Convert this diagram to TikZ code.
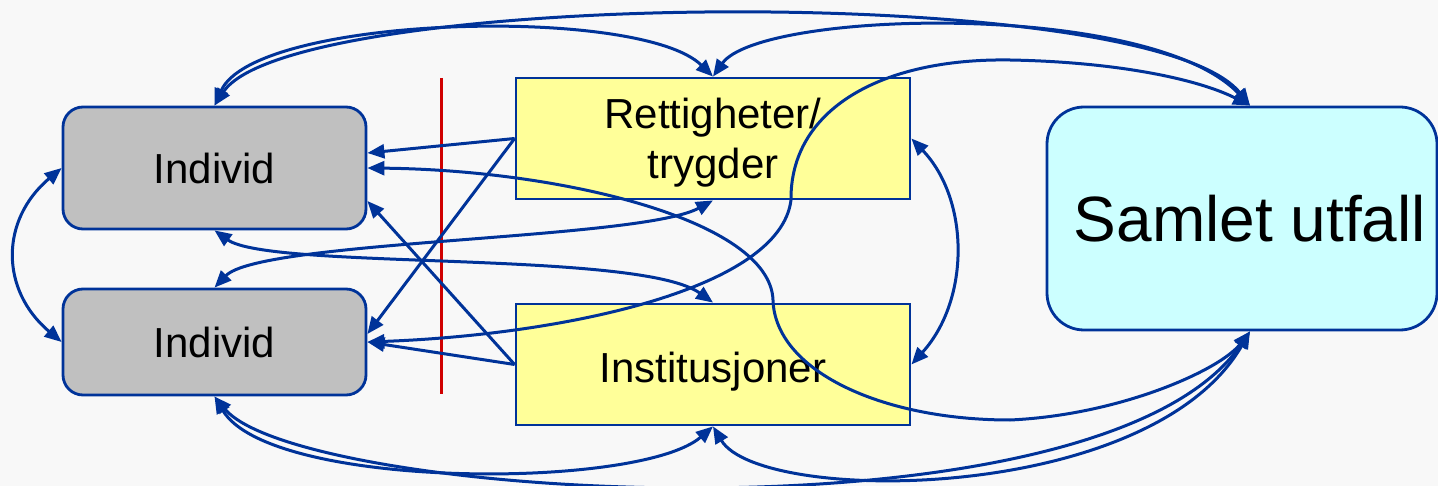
\documentclass[tikz,border=0pt]{standalone}
\usepackage{fontspec}
\setmainfont{Liberation Sans}
\usetikzlibrary{arrows.meta,calc}
\definecolor{linkblue}{HTML}{003399}
\definecolor{personfill}{HTML}{C0C0C0}
\definecolor{framefill}{HTML}{FFFF99}
\definecolor{outcomefill}{HTML}{CCFFFF}
\definecolor{dividerred}{HTML}{D00000}
\definecolor{bggray}{HTML}{F8F8F8}
\begin{document}
\begin{tikzpicture}[x=1pt,y=-1pt,
  box/.style={draw=linkblue, line width=2.8pt, inner sep=0pt, text=black,
    font=\fontsize{42}{50}\selectfont, align=center},
  person/.style={box, fill=personfill, rounded corners=20pt, minimum width=303pt},
  frame/.style={box, fill=framefill, minimum width=394pt, minimum height=121pt, text depth=0pt},
  outcome/.style={box, fill=outcomefill, rounded corners=37pt, minimum width=390pt,
    minimum height=223pt, font=\fontsize{64}{70}\selectfont},
  link/.style={draw=linkblue, line width=3pt},
  tip/.tip={Triangle[length=17pt,width=14pt]},
  both/.style={link, tip-tip},
  one/.style={link, -tip},
  divider/.style={draw=dividerred, line width=3pt}]

% canvas
\path[use as bounding box, fill=bggray] (0,0) rectangle (1438,486);

% boxes
\node[person, minimum height=122pt] (ind1) at (214.5,168) {Individ};
\node[person, minimum height=106pt] (ind2) at (214.5,342) {Individ};
\node[frame] (ret) at (713,138.5) {Rettigheter/\\trygder};
\node[frame, text height=35pt] (ins) at (713,364.5) {Institusjoner};
\node[outcome] (sam) at (1242,218.5) {\hspace*{16pt}Samlet utfall};

\coordinate (samtop) at ($(sam.north)+(8,0)$);
\coordinate (sambot) at ($(sam.south)+(8,0)$);

% divider
\draw[divider] (441,78) -- (441,394);

% arcs above the boxes
\draw[both] (ind1.north) .. controls (255,15) and (640,5) .. (ret.north);
\draw[both] (ind1.north) .. controls (290,-10) and (1150,-20) .. (samtop);
\draw[both] (ret.north) .. controls (760,10) and (1150,0) .. (samtop);

% arcs below the boxes
\draw[both] (ind2.south) .. controls (270,490) and (640,490) .. (ins.south);
\draw[both] (ind2.south) .. controls (300,500) and (1100,550) .. (sambot);
\draw[both] (ins.south) .. controls (760,505) and (1150,505) .. (sambot);

% side arcs
\draw[both] (ind1.west) .. controls (0,220) and (0,290) .. (ind2.west);
\draw[both] (ret.east) .. controls (970,200) and (970,300) .. (ins.east);

% crossings between the middle boxes
\draw[both] (ind2.north) .. controls (260,240) and (640,240) .. (ret.south);
\draw[both] (ind1.south) .. controls (270,270) and (640,250) .. (ins.north);

% long S-curves
\draw[both] (ind2.east) .. controls (560,335) and (780,290) .. (791,200)
  .. controls (790,110) and (880,58) .. (1010,60)
  .. controls (1120,62) and (1200,80) .. (samtop);
\draw[both] (ind1.east) .. controls (560,170) and (770,220) .. (773,300)
  .. controls (775,370) and (880,420) .. (1010,420)
  .. controls (1120,415) and (1220,370) .. (sambot);

% straight links into the individuals
\draw[one] (ret.west) -- ($(ind1.east)+(0,-15)$);
\draw[one] (ret.west) -- ($(ind2.east)+(0,-8)$);
\draw[one] (ins.west) -- ($(ind1.east)+(0,33)$);
\draw[one] (ins.west) -- (ind2.east);
\end{tikzpicture}
\end{document}
